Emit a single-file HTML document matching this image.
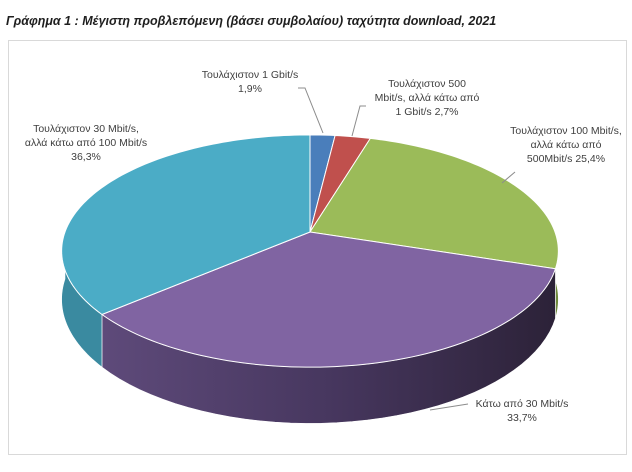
<!DOCTYPE html>
<html><head><meta charset="utf-8"><style>
body{margin:0;background:#fff;}
svg text{font-family:"Liberation Sans","DejaVu Sans",sans-serif;}
</style></head><body>
<svg width="632" height="467" viewBox="0 0 632 467">
<text x="6" y="25" font-size="12.5" font-weight="bold" font-style="italic" fill="#1f1f1f">Γράφημα 1 : Μέγιστη προβλεπόμενη (βάσει συμβολαίου) ταχύτητα download, 2021</text>
<rect x="8.5" y="40.5" width="618" height="414" fill="none" stroke="#d9d9d9"/>
<defs>
<linearGradient id="pside" x1="0" x2="1" y1="0" y2="0"><stop offset="0" stop-color="#5e4a7a"/><stop offset="0.5" stop-color="#47375f"/><stop offset="1" stop-color="#2c2238"/></linearGradient>
</defs>
<g id="pie"></g>
<g font-size="10.5" fill="#404040" text-anchor="middle">
<text x="250" y="78">Τουλάχιστον 1 Gbit/s</text><text x="250" y="92">1,9%</text>
<text x="427" y="87">Τουλάχιστον 500</text><text x="427" y="101">Mbit/s, αλλά κάτω από</text><text x="427" y="115">1 Gbit/s 2,7%</text>
<text x="566" y="134">Τουλάχιστον 100 Mbit/s,</text><text x="566" y="148">αλλά κάτω από</text><text x="566" y="162">500Mbit/s 25,4%</text>
<text x="86" y="132">Τουλάχιστον 30 Mbit/s,</text><text x="86" y="146">αλλά κάτω από 100 Mbit/s</text><text x="86" y="160">36,3%</text>
<text x="522" y="407">Κάτω από 30 Mbit/s</text><text x="522" y="421">33,7%</text>
</g>
<g stroke="#8c8c8c" fill="none">
<polyline points="298,88 305,88 323,133"/>
<polyline points="366,106 360,106 352,136"/>
<line x1="515" y1="172" x2="502" y2="183"/>
<line x1="468" y1="404" x2="430" y2="410"/>
</g>
</svg>
<script>
const categories=["Τουλάχιστον 1 Gbit/s","Τουλάχιστον 500 Mbit/s","Τουλάχιστον 100 Mbit/s","Κάτω από 30 Mbit/s","Τουλάχιστον 30 Mbit/s"];
const values=[1.9,2.7,25.4,33.7,36.3];
const colors=["#4a7ebb","#c0504d","#9bbb59","#8064a2","#4bacc6"];
const sideColors=["#2f5a8e","#8c3836","#6f8a3c","url(#pside)","#3a8aa0"];
const cx=310,cy=232,A=245,B=113,k=0.164,D=47;
function pt(th){const u=Math.sin(th),v=-Math.cos(th),s=1/(1-k*v);return [cx+A*u*s,cy+B*v*s,s];}
const g=document.getElementById('pie');
const NS="http://www.w3.org/2000/svg";
const total=values.reduce((a,b)=>a+b,0);
let acc=0;const slices=[];
values.forEach((v,i)=>{const a0=acc/total*2*Math.PI;acc+=v;const a1=acc/total*2*Math.PI;slices.push([a0,a1]);});
slices.forEach(([a0,a1],i)=>{
 const s0=Math.max(a0,Math.PI/2),s1=Math.min(a1,3*Math.PI/2);
 if(s1<=s0)return;
 const top=[],bot=[];
 for(let j=0;j<=40;j++){const t=s0+(s1-s0)*j/40;const p=pt(t);top.push(p[0]+","+p[1]);bot.unshift(p[0]+","+(p[1]+D*p[2]));}
 const el=document.createElementNS(NS,'polygon');
 el.setAttribute('points',top.concat(bot).join(' '));
 el.setAttribute('fill',sideColors[i]);
 el.setAttribute('stroke','#fff');
 el.setAttribute('stroke-width','0.6');
 
 
 g.appendChild(el);
});
slices.forEach(([a0,a1],i)=>{
 const pts=[cx+","+cy];
 const n=Math.max(2,Math.ceil((a1-a0)*40));
 for(let j=0;j<=n;j++){const p=pt(a0+(a1-a0)*j/n);pts.push(p[0]+","+p[1]);}
 const el=document.createElementNS(NS,'polygon');
 el.setAttribute('points',pts.join(' '));
 el.setAttribute('fill',colors[i]);
 el.setAttribute('stroke','#fff');
 el.setAttribute('stroke-width','1');
 
 
 g.appendChild(el);
});
</script>
</body></html>
